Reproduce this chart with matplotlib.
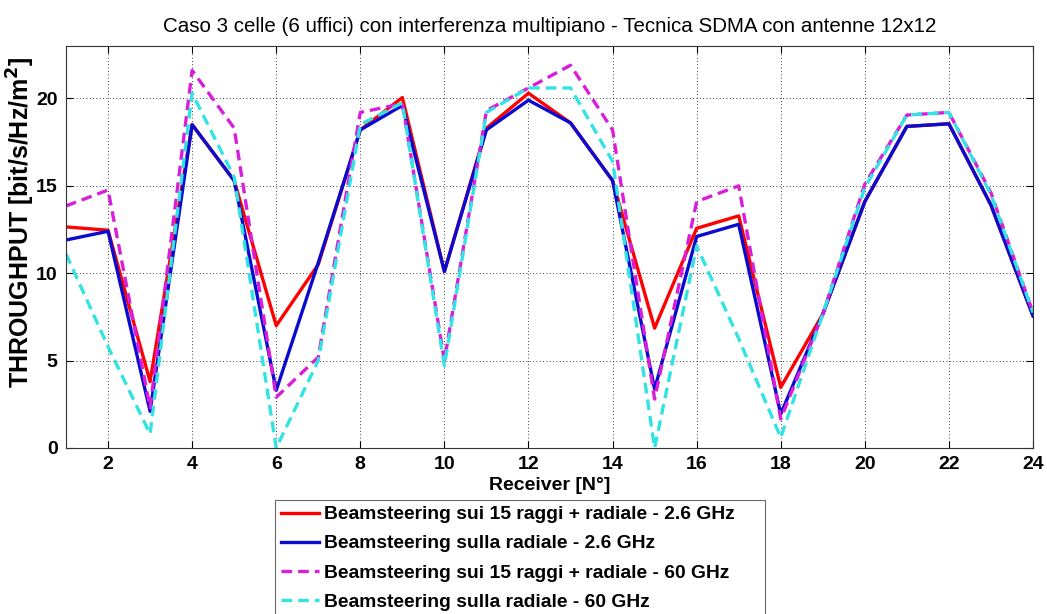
import matplotlib
matplotlib.use("Agg")
import matplotlib.pyplot as plt

plt.rcParams['font.family'] = ['Liberation Sans', 'DejaVu Sans']

receivers = list(range(1, 25))

bs15_26 = [12.65, 12.46, 3.8, 18.5, 15.3, 7.0, 10.5, 18.2, 20.05, 10.1, 18.3, 20.3,
           18.6, 15.3, 6.86, 12.57, 13.28, 3.47, 7.66, 14.1, 18.4, 18.55, 13.9, 7.56]
rad_26 = [11.9, 12.4, 2.1, 18.5, 15.3, 3.3, 10.6, 18.2, 19.6, 10.1, 18.2, 19.9,
          18.6, 15.3, 3.37, 12.1, 12.8, 1.94, 7.66, 14.1, 18.4, 18.55, 13.9, 7.56]
bs15_60 = [13.85, 14.76, 2.3, 21.6, 18.3, 2.9, 5.2, 19.2, 19.7, 5.0, 19.3, 20.6,
           21.9, 18.2, 2.8, 14.1, 15.0, 1.66, 7.66, 15.1, 19.05, 19.2, 14.6, 7.75]
rad_60 = [11.1, 5.8, 0.8, 20.3, 15.5, 0.0, 5.0, 18.5, 19.75, 4.7, 19.2, 20.6,
          20.6, 16.4, 0.0, 11.56, 6.26, 0.6, 7.66, 14.9, 19.05, 19.2, 14.5, 7.75]

labels = [
    "Beamsteering sui 15 raggi + radiale - 2.6 GHz",
    "Beamsteering sulla radiale - 2.6 GHz",
    "Beamsteering sui 15 raggi + radiale - 60 GHz",
    "Beamsteering sulla radiale - 60 GHz",
]

fig = plt.figure(figsize=(10.47, 6.14), dpi=100)
ax = fig.add_axes([66 / 1047, 1 - 448 / 614, (1033 - 66) / 1047, (448 - 46) / 614])

lw = 2.4
dash = (0, (3.2, 1.8))
ax.plot(receivers, bs15_26, color='#ff0000', lw=lw, label=labels[0])
ax.plot(receivers, rad_26, color='#0a0ad0', lw=lw, label=labels[1])
ax.plot(receivers, bs15_60, color='#d81ed8', lw=lw, ls=dash, label=labels[2])
ax.plot(receivers, rad_60, color='#33e3e3', lw=lw, ls=dash, label=labels[3])

ax.set_xlim(1, 24)
ax.set_ylim(0, 23)
ax.set_xticks(range(2, 25, 2))
ax.set_yticks(range(0, 21, 5))
ax.grid(True, color='black', ls=(0, (1, 3)), lw=0.6)
ax.tick_params(direction='in', top=True, right=True, length=5, width=0.8,
               labelsize=14, pad=6)
for lab in ax.get_xticklabels() + ax.get_yticklabels():
    lab.set_fontweight('bold')
for s in ax.spines.values():
    s.set_linewidth(0.8)
    s.set_color('#333333')

ax.set_title("Caso 3 celle (6 uffici) con interferenza multipiano - Tecnica SDMA con antenne 12x12",
             fontsize=14.8, pad=10)
ax.set_xlabel("Receiver [N°]", fontsize=14, fontweight='bold', labelpad=3)
ax.set_ylabel("THROUGHPUT [bit/s/Hz/m$^\\mathbf{2}$]", fontsize=18, fontweight='bold')
ax.yaxis.set_label_coords(-0.030, 0.562)

leg = fig.legend(loc='upper left',
                 bbox_to_anchor=(275 / 1047, 1 - 500 / 614 - 0.01, (765 - 275) / 1047, 0.01),
                 mode='expand',
                 prop={'size': 13.9, 'weight': 'bold'}, frameon=True, fancybox=False,
                 handlelength=2.0, handletextpad=0.26, labelspacing=0.6,
                 borderpad=0.3, borderaxespad=0)
leg.get_frame().set_edgecolor('#444444')
leg.get_frame().set_linewidth(0.8)

fig.savefig("out.png", dpi=100)
